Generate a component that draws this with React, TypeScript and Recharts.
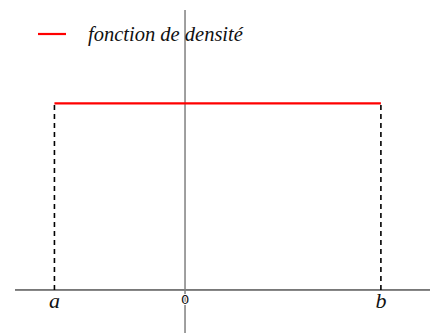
import { ComposedChart, Line, XAxis, YAxis, ReferenceLine, ReferenceDot, Legend } from 'recharts'

// bornes de la loi uniforme
const bornes = [-2, 3]
const labels = ['a', 'b']
const densite = [{ x: -2, y: 0.2 }, { x: 3, y: 0.2 }]

const serif = 'Liberation Serif'

function LegendBox() {
  return (
    <div style={{ display: 'flex', alignItems: 'center', fontFamily: serif }}>
      <svg width={30} height={4}>
        <line x1={0} y1={2} x2={28} y2={2} stroke="#ff0000" strokeWidth={2.2} />
      </svg>
      <i style={{ marginLeft: 20, fontFamily: serif, fontSize: 20.5, color: '#111', lineHeight: '20px' }}>
        fonction de densité
      </i>
    </div>
  )
}

export default function App() {
  return (
    <div style={{ position: 'absolute', left: 0, top: 0, background: '#fff' }}>
      <ComposedChart width={430} height={333} data={densite} margin={{ top: 10, right: 0, bottom: 0, left: 15 }}>
        <XAxis type="number" dataKey="x" domain={[-2.604, 3.752]} hide allowDataOverflow />
        <YAxis type="number" domain={[-0.0461, 0.3]} hide allowDataOverflow width={0} />
        <Legend
          layout="horizontal"
          verticalAlign="middle"
          content={() => <LegendBox />}
          wrapperStyle={{ top: 24, left: 38, width: 'auto' }}
        />
        <ReferenceLine y={0} stroke="#000" strokeWidth={1} />
        <ReferenceLine x={0} stroke="#808080" strokeWidth={1.5} />
        {bornes.map((b) => (
          <ReferenceLine
            key={b}
            segment={[{ x: b, y: 0 }, { x: b, y: 0.2 }]}
            stroke="#000"
            strokeWidth={1.6}
            strokeDasharray="5 4"
          />
        ))}
        <Line dataKey="y" stroke="#ff0000" strokeWidth={2.4} dot={false} isAnimationActive={false} />
        {bornes.map((b, i) => (
          <ReferenceDot
            key={'l' + b}
            x={b}
            y={0}
            r={0}
            stroke="none"
            fill="none"
            label={({ viewBox }: any) => (
              <text x={viewBox.x} y={viewBox.y + 18} textAnchor="middle" style={{ fontFamily: serif, fontStyle: 'italic', fontSize: 22 }} fill="#111">
                {labels[i]}
              </text>
            )}
          />
        ))}
        <ReferenceDot
          x={0}
          y={0}
          r={0}
          stroke="none"
          fill="none"
          label={({ viewBox }: any) => (
            <text x={viewBox.x} y={viewBox.y + 14} textAnchor="middle" style={{ fontFamily: 'DejaVu Sans', fontSize: 13 }} fill="#111" stroke="#fff" strokeWidth={2} paintOrder="stroke">
              0
            </text>
          )}
        />
      </ComposedChart>
    </div>
  )
}
